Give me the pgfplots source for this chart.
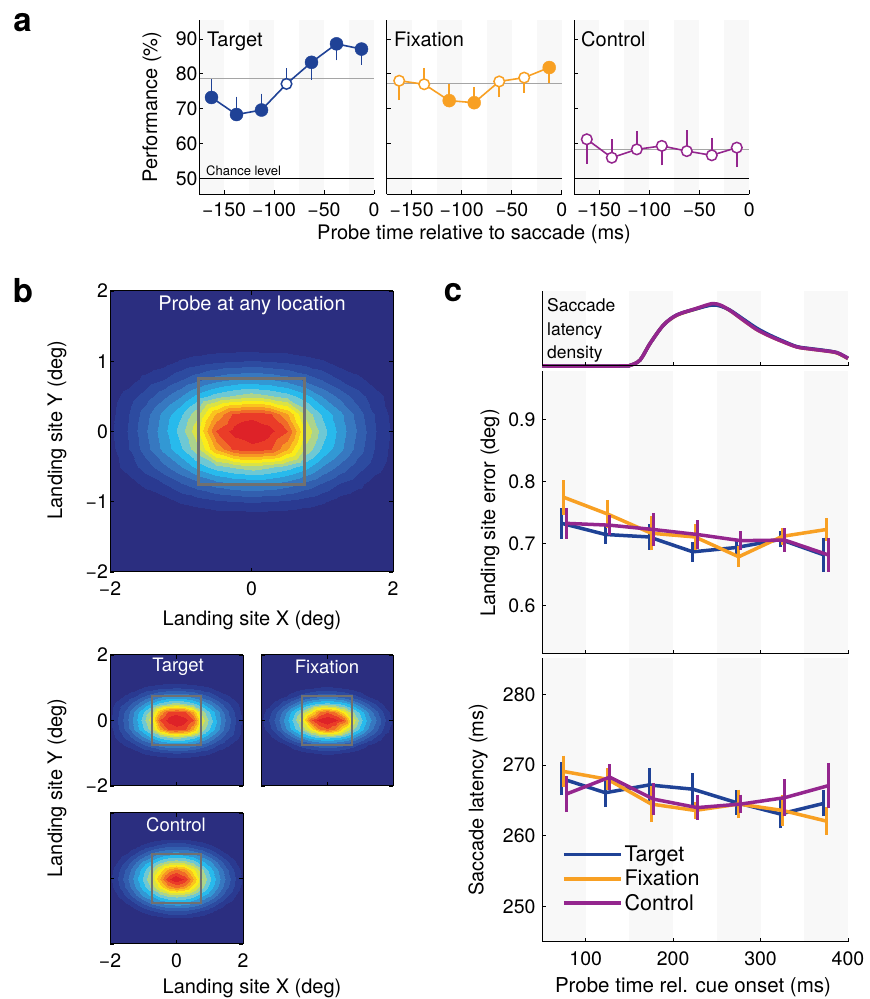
\documentclass[border=0pt]{standalone}
\usepackage{pgfplots}
\usepackage{pgfplotstable}
\pgfplotsset{compat=1.18}
\usepackage{fontspec}
\setmainfont{TeX Gyre Heros}
\newcommand{\fs}[2]{\fontsize{#1}{#2}\selectfont}
\definecolor{tblue}{RGB}{31,66,150}
\definecolor{torange}{RGB}{248,160,35}
\definecolor{tpurple}{RGB}{148,38,142}
\definecolor{stripe}{RGB}{248,248,248}
\definecolor{boxgray}{RGB}{112,112,112}
\definecolor{thrgray}{RGB}{165,165,165}
\pgfplotsset{colormap={landing}{rgb255=(43,46,128) rgb255=(42,58,145) rgb255=(45,75,160) rgb255=(50,95,175) rgb255=(55,120,192) rgb255=(50,152,212) rgb255=(40,186,236) rgb255=(110,200,212) rgb255=(172,212,140) rgb255=(218,226,70) rgb255=(250,236,25) rgb255=(250,196,30) rgb255=(246,152,35) rgb255=(240,106,40) rgb255=(234,60,40) rgb255=(222,34,40)}}

\pgfplotstableread[row sep=\\]{
0 3 0\\1 3 0\\2 3 0\\3 3 0\\4 3 0\\5 3 0\\6 3 1\\7 3 1\\8 3 1\\9 3 1\\10 3 1\\11 3 0\\12 3 0\\13 3 0\\14 3 0\\15 3 0\\16 3 0\\
0 4 0\\1 4 0\\2 4 1\\3 4 3\\4 4 7\\5 4 9\\6 4 11\\7 4 12\\8 4 13\\9 4 12\\10 4 11\\11 4 9\\12 4 7\\13 4 3\\14 4 1\\15 4 0\\16 4 0\\
0 5 0\\1 5 3\\2 5 8\\3 5 12\\4 5 18\\5 5 23\\6 5 28\\7 5 31\\8 5 32\\9 5 31\\10 5 28\\11 5 23\\12 5 18\\13 5 12\\14 5 8\\15 5 3\\16 5 0\\
0 6 3\\1 6 9\\2 6 15\\3 6 23\\4 6 31\\5 6 40\\6 6 47\\7 6 51\\8 6 54\\9 6 51\\10 6 47\\11 6 40\\12 6 31\\13 6 23\\14 6 15\\15 6 9\\16 6 3\\
0 7 4\\1 7 12\\2 7 22\\3 7 33\\4 7 43\\5 7 55\\6 7 76\\7 7 89\\8 7 91\\9 7 89\\10 7 76\\11 7 55\\12 7 43\\13 7 33\\14 7 22\\15 7 12\\16 7 4\\
0 8 5\\1 8 13\\2 8 24\\3 8 35\\4 8 47\\5 8 62\\6 8 88\\7 8 96\\8 8 100\\9 8 96\\10 8 88\\11 8 62\\12 8 47\\13 8 35\\14 8 24\\15 8 13\\16 8 5\\
0 9 4\\1 9 12\\2 9 22\\3 9 33\\4 9 43\\5 9 55\\6 9 76\\7 9 89\\8 9 91\\9 9 89\\10 9 76\\11 9 55\\12 9 43\\13 9 33\\14 9 22\\15 9 12\\16 9 4\\
0 10 3\\1 10 9\\2 10 15\\3 10 23\\4 10 31\\5 10 40\\6 10 47\\7 10 51\\8 10 54\\9 10 51\\10 10 47\\11 10 40\\12 10 31\\13 10 23\\14 10 15\\15 10 9\\16 10 3\\
0 11 0\\1 11 3\\2 11 8\\3 11 12\\4 11 18\\5 11 23\\6 11 28\\7 11 31\\8 11 32\\9 11 31\\10 11 28\\11 11 23\\12 11 18\\13 11 12\\14 11 8\\15 11 3\\16 11 0\\
0 12 0\\1 12 0\\2 12 1\\3 12 3\\4 12 7\\5 12 9\\6 12 11\\7 12 12\\8 12 13\\9 12 12\\10 12 11\\11 12 9\\12 12 7\\13 12 3\\14 12 1\\15 12 0\\16 12 0\\
0 13 0\\1 13 0\\2 13 0\\3 13 0\\4 13 0\\5 13 0\\6 13 1\\7 13 1\\8 13 1\\9 13 1\\10 13 1\\11 13 0\\12 13 0\\13 13 0\\14 13 0\\15 13 0\\16 13 0\\
}\bigmap

\pgfplotstableread[row sep=\\]{
0 3 0\\1 3 0\\2 3 0\\3 3 0\\4 3 0\\5 3 0\\6 3 0\\7 3 0\\8 3 0\\9 3 0\\10 3 0\\11 3 0\\12 3 0\\13 3 0\\14 3 0\\15 3 0\\16 3 0\\
0 4 0\\1 4 0\\2 4 0\\3 4 0\\4 4 2\\5 4 4\\6 4 6\\7 4 7\\8 4 8\\9 4 7\\10 4 6\\11 4 4\\12 4 2\\13 4 0\\14 4 0\\15 4 0\\16 4 0\\
0 5 0\\1 5 0\\2 5 2\\3 5 6\\4 5 11\\5 5 16\\6 5 20\\7 5 23\\8 5 24\\9 5 23\\10 5 20\\11 5 16\\12 5 11\\13 5 6\\14 5 2\\15 5 0\\16 5 0\\
0 6 1\\1 6 4\\2 6 11\\3 6 19\\4 6 27\\5 6 35\\6 6 42\\7 6 46\\8 6 47\\9 6 46\\10 6 42\\11 6 35\\12 6 27\\13 6 19\\14 6 11\\15 6 4\\16 6 1\\
0 7 3\\1 7 10\\2 7 20\\3 7 31\\4 7 42\\5 7 52\\6 7 65\\7 7 81\\8 7 87\\9 7 81\\10 7 65\\11 7 52\\12 7 42\\13 7 31\\14 7 20\\15 7 10\\16 7 3\\
0 8 5\\1 8 13\\2 8 24\\3 8 35\\4 8 47\\5 8 62\\6 8 87\\7 8 96\\8 8 100\\9 8 96\\10 8 87\\11 8 62\\12 8 47\\13 8 35\\14 8 24\\15 8 13\\16 8 5\\
0 9 3\\1 9 10\\2 9 20\\3 9 31\\4 9 42\\5 9 52\\6 9 65\\7 9 81\\8 9 87\\9 9 81\\10 9 65\\11 9 52\\12 9 42\\13 9 31\\14 9 20\\15 9 10\\16 9 3\\
0 10 1\\1 10 4\\2 10 11\\3 10 19\\4 10 27\\5 10 35\\6 10 42\\7 10 46\\8 10 47\\9 10 46\\10 10 42\\11 10 35\\12 10 27\\13 10 19\\14 10 11\\15 10 4\\16 10 1\\
0 11 0\\1 11 0\\2 11 2\\3 11 6\\4 11 11\\5 11 16\\6 11 20\\7 11 23\\8 11 24\\9 11 23\\10 11 20\\11 11 16\\12 11 11\\13 11 6\\14 11 2\\15 11 0\\16 11 0\\
0 12 0\\1 12 0\\2 12 0\\3 12 0\\4 12 2\\5 12 4\\6 12 6\\7 12 7\\8 12 8\\9 12 7\\10 12 6\\11 12 4\\12 12 2\\13 12 0\\14 12 0\\15 12 0\\16 12 0\\
0 13 0\\1 13 0\\2 13 0\\3 13 0\\4 13 0\\5 13 0\\6 13 0\\7 13 0\\8 13 0\\9 13 0\\10 13 0\\11 13 0\\12 13 0\\13 13 0\\14 13 0\\15 13 0\\16 13 0\\
}\fixmap

\pgfplotstableread[row sep=\\]{
0 3 0\\1 3 0\\2 3 0\\3 3 0\\4 3 0\\5 3 2\\6 3 3\\7 3 4\\8 3 4\\9 3 4\\10 3 3\\11 3 2\\12 3 0\\13 3 0\\14 3 0\\15 3 0\\16 3 0\\
0 4 0\\1 4 0\\2 4 1\\3 4 4\\4 4 8\\5 4 12\\6 4 15\\7 4 18\\8 4 18\\9 4 18\\10 4 15\\11 4 12\\12 4 8\\13 4 4\\14 4 1\\15 4 0\\16 4 0\\
0 5 0\\1 5 2\\2 5 7\\3 5 13\\4 5 20\\5 5 27\\6 5 32\\7 5 35\\8 5 36\\9 5 35\\10 5 32\\11 5 27\\12 5 20\\13 5 13\\14 5 7\\15 5 2\\16 5 0\\
0 6 1\\1 6 7\\2 6 15\\3 6 24\\4 6 33\\5 6 40\\6 6 48\\7 6 53\\8 6 55\\9 6 53\\10 6 48\\11 6 40\\12 6 33\\13 6 24\\14 6 15\\15 6 7\\16 6 1\\
0 7 4\\1 7 11\\2 7 21\\3 7 31\\4 7 41\\5 7 53\\6 7 65\\7 7 78\\8 7 83\\9 7 78\\10 7 65\\11 7 53\\12 7 41\\13 7 31\\14 7 21\\15 7 11\\16 7 4\\
0 8 5\\1 8 13\\2 8 24\\3 8 34\\4 8 45\\5 8 58\\6 8 76\\7 8 92\\8 8 100\\9 8 92\\10 8 76\\11 8 58\\12 8 45\\13 8 34\\14 8 24\\15 8 13\\16 8 5\\
0 9 4\\1 9 11\\2 9 21\\3 9 31\\4 9 41\\5 9 53\\6 9 65\\7 9 78\\8 9 83\\9 9 78\\10 9 65\\11 9 53\\12 9 41\\13 9 31\\14 9 21\\15 9 11\\16 9 4\\
0 10 1\\1 10 7\\2 10 15\\3 10 24\\4 10 33\\5 10 40\\6 10 48\\7 10 53\\8 10 55\\9 10 53\\10 10 48\\11 10 40\\12 10 33\\13 10 24\\14 10 15\\15 10 7\\16 10 1\\
0 11 0\\1 11 2\\2 11 7\\3 11 13\\4 11 20\\5 11 27\\6 11 32\\7 11 35\\8 11 36\\9 11 35\\10 11 32\\11 11 27\\12 11 20\\13 11 13\\14 11 7\\15 11 2\\16 11 0\\
0 12 0\\1 12 0\\2 12 1\\3 12 4\\4 12 8\\5 12 12\\6 12 15\\7 12 18\\8 12 18\\9 12 18\\10 12 15\\11 12 12\\12 12 8\\13 12 4\\14 12 1\\15 12 0\\16 12 0\\
0 13 0\\1 13 0\\2 13 0\\3 13 0\\4 13 0\\5 13 2\\6 13 3\\7 13 4\\8 13 4\\9 13 4\\10 13 3\\11 13 2\\12 13 0\\13 13 0\\14 13 0\\15 13 0\\16 13 0\\
}\ctrlmap

\pgfplotsset{
  every axis/.append style={scale only axis, tick label style={font=\fs{19.5}{22}}, axis line style={line width=1pt}, major tick length=4pt, tick style={line width=0.9pt, black}, tick align=inside},
  pa/.style={width=175pt, height=174.3pt, xmin=-175, xmax=0, ymin=45.4, ymax=95.45, axis x line*=bottom, axis y line*=left, axis on top, xtick={-150,-100,-50,0}, xticklabels={−150,−100,−50,0}, ytick={50,60,70,80,90}, yticklabels={50,60,70,80,90}, clip=false, xticklabel style={yshift=-7pt, inner sep=1pt}, yticklabel style={xshift=2pt}},
  ebA/.style={error bars/.cd, y dir=both, y explicit, error bar style={line width=1.6pt}, error mark options={line width=1.6pt, mark size=1.5pt}},
  ebC/.style={error bars/.cd, y dir=both, y explicit, error bar style={line width=3pt}, error mark options={line width=3pt, mark size=3pt}},
  pc/.style={width=306pt, xmin=50, xmax=400, axis x line*=bottom, axis y line*=left, axis on top, xtick={100,200,300,400}, clip=false, xticklabel style={yshift=-6pt}, yticklabel style={xshift=-3pt}},
  hm/.style={view={0}{90}, xmin=0, xmax=16, ymin=0, ymax=16, colormap name=landing, colormap access=piecewise constant, point meta min=0, point meta max=100, ztick=\empty, axis on top, xtick={0,8,16}, ytick={0,8,16}, xticklabels={}, yticklabels={}, xticklabel style={yshift=-6pt}, yticklabel style={xshift=1.5pt}},
}
\newcommand{\stripesA}{%
\addplot[draw=none, fill=stripe, forget plot] coordinates {(-175,45.4) (-150,45.4) (-150,95.45) (-175,95.45)};
\addplot[draw=none, fill=stripe, forget plot] coordinates {(-125,45.4) (-100,45.4) (-100,95.45) (-125,95.45)};
\addplot[draw=none, fill=stripe, forget plot] coordinates {(-75,45.4) (-50,45.4) (-50,95.45) (-75,95.45)};
\addplot[draw=none, fill=stripe, forget plot] coordinates {(-25,45.4) (0,45.4) (0,95.45) (-25,95.45)};
\addplot[black, line width=0.9pt, forget plot] coordinates {(-175,50) (0,50)};}
\newcommand{\stripesC}[2]{%
\addplot[draw=none, fill=stripe, forget plot] coordinates {(50,#1) (100,#1) (100,#2) (50,#2)};
\addplot[draw=none, fill=stripe, forget plot] coordinates {(150,#1) (200,#1) (200,#2) (150,#2)};
\addplot[draw=none, fill=stripe, forget plot] coordinates {(250,#1) (300,#1) (300,#2) (250,#2)};
\addplot[draw=none, fill=stripe, forget plot] coordinates {(350,#1) (400,#1) (400,#2) (350,#2)};}
\newcommand{\hmback}{\addplot3[surf, shader=flat, mesh/cols=2] coordinates {(0,0,0) (16,0,0) (0,16,0) (16,16,0)};}

\begin{document}
\begin{tikzpicture}
\useasboundingbox (0pt,0pt) rectangle (870pt,999pt);

% ---------- panel a ----------
\begin{axis}[pa, at={(199pt,804.7pt)}, anchor=south west]
\stripesA
\addplot[thrgray, line width=0.9pt] coordinates {(-175,78.7) (0,78.7)};
\addplot[tblue, line width=1.6pt, ebA] coordinates {
(-162.5,73.2) += (0,4.8) -= (0,0)
(-137.5,68.3) += (0,4.7) -= (0,0)
(-112.5,69.6) += (0,4.3) -= (0,0)
(-87.5,77.1) += (0,4.0) -= (0,0)
(-62.5,83.3) += (0,0) -= (0,4.6)
(-37.5,88.6) += (0,0) -= (0,4.3)
(-12.5,87.1) += (0,0) -= (0,4.1)};
\addplot[only marks, mark=*, tblue, mark size=6.5pt] coordinates {(-162.5,73.2) (-137.5,68.3) (-112.5,69.6) (-62.5,83.3) (-37.5,88.6) (-12.5,87.1)};
\addplot[only marks, mark=*, mark size=5.3pt, mark options={fill=white, draw=tblue, line width=1.5pt}] coordinates {(-87.5,77.1)};
\end{axis}

\begin{axis}[pa, at={(386.7pt,804.7pt)}, anchor=south west, yticklabels={}]
\stripesA
\addplot[thrgray, line width=0.9pt] coordinates {(-175,77.1) (0,77.1)};
\addplot[torange, line width=1.6pt, ebA] coordinates {
(-162.5,78.0) += (0,0) -= (0,5.1)
(-137.5,77.0) += (0,4.3) -= (0,0)
(-112.5,72.3) += (0,4.2) -= (0,0)
(-87.5,71.7) += (0,4.1) -= (0,0)
(-62.5,77.8) += (0,0) -= (0,4.1)
(-37.5,78.9) += (0,0) -= (0,4.0)
(-12.5,81.8) += (0,0) -= (0,4.0)};
\addplot[only marks, mark=*, torange, mark size=6.5pt] coordinates {(-112.5,72.3) (-87.5,71.7) (-12.5,81.8)};
\addplot[only marks, mark=*, mark size=5.3pt, mark options={fill=white, draw=torange, line width=1.5pt}] coordinates {(-162.5,78.0) (-137.5,77.0) (-62.5,77.8) (-37.5,78.9)};
\end{axis}

\begin{axis}[pa, at={(574.3pt,804.7pt)}, anchor=south west, yticklabels={}]
\stripesA
\addplot[thrgray, line width=0.9pt] coordinates {(-175,58.3) (0,58.3)};
\addplot[tpurple, line width=1.6pt, ebA] coordinates {
(-162.5,61.2) += (0,0) -= (0,6.6)
(-137.5,55.9) += (0,4.9) -= (0,0)
(-112.5,58.3) += (0,4.9) -= (0,0)
(-87.5,59.3) += (0,0) -= (0,5.2)
(-62.5,57.8) += (0,5.6) -= (0,0)
(-37.5,56.6) += (0,4.6) -= (0,0)
(-12.5,58.8) += (0,0) -= (0,5.2)};
\addplot[only marks, mark=*, mark size=5.3pt, mark options={fill=white, draw=tpurple, line width=1.5pt}] coordinates {(-162.5,61.2) (-137.5,55.9) (-112.5,58.3) (-87.5,59.3) (-62.5,57.8) (-37.5,56.6) (-12.5,58.8)};
\end{axis}

\node[font=\fs{20}{24}, rotate=90] at (152pt,892pt) {Performance (\%)};
\node[font=\fs{20}{24}, inner sep=0pt] at (474pt,764.5pt) {Probe time relative to saccade (ms)};
\node[font=\fs{13}{15}, anchor=west, inner sep=0pt] at (206pt,828pt) {Chance level};
\node[font=\fs{20}{24}, anchor=base west, inner sep=0pt] at (207pt,952.3pt) {Target};
\node[font=\fs{20}{24}, anchor=base west, inner sep=0pt] at (394pt,952.3pt) {Fixation};
\node[font=\fs{20}{24}, anchor=base west, inner sep=0pt] at (581pt,952.3pt) {Control};
\node[font=\fs{33}{36}\bfseries, inner sep=0pt] at (22.5pt,976.5pt) {a};
\node[font=\fs{33}{36}\bfseries, inner sep=0pt] at (23pt,708pt) {b};
\node[font=\fs{33}{36}\bfseries, inner sep=0pt] at (453pt,706pt) {c};

% ---------- panel b ----------
\begin{axis}[hm, width=283pt, height=281pt, at={(110pt,427pt)}, anchor=south west,
  xticklabels={−2,0,2}, ytick={0,4,8,12,16}, yticklabels={−2,−1,0,1,2}]
\hmback
\addplot3[surf, shader=interp, mesh/cols=17] table {\bigmap};
\addplot3[boxgray, line width=3pt, line cap=rect] coordinates {(5,5,100) (11,5,100) (11,11,100) (5,11,100) (5,5,100)};
\end{axis}
\node[font=\fs{20}{24}, white] at (252pt,694pt) {Probe at any location};
\node[font=\fs{20}{24}] at (252pt,379pt) {Landing site X (deg)};
\node[font=\fs{20}{24}, rotate=90] at (57pt,569pt) {Landing site Y (deg)};

\begin{axis}[hm, width=133pt, height=131pt, at={(110pt,213pt)}, anchor=south west, yticklabels={−2,0,2}]
\hmback
\addplot3[surf, shader=interp, mesh/cols=17] table {\bigmap};
\addplot3[boxgray, line width=2pt, line cap=rect] coordinates {(5,5,100) (11,5,100) (11,11,100) (5,11,100) (5,5,100)};
\end{axis}
\begin{axis}[hm, width=132pt, height=131pt, at={(261pt,213pt)}, anchor=south west]
\hmback
\addplot3[surf, shader=interp, mesh/cols=17] table {\fixmap};
\addplot3[boxgray, line width=2pt, line cap=rect] coordinates {(5,5,100) (11,5,100) (11,11,100) (5,11,100) (5,5,100)};
\end{axis}
\begin{axis}[hm, width=133pt, height=131pt, at={(110pt,55pt)}, anchor=south west, xticklabels={−2,0,2}]
\hmback
\addplot3[surf, shader=interp, mesh/cols=17] table {\ctrlmap};
\addplot3[boxgray, line width=2pt, line cap=rect] coordinates {(5,5,100) (11,5,100) (11,11,100) (5,11,100) (5,5,100)};
\end{axis}
\node[font=\fs{18.5}{22}, white] at (178pt,332.3pt) {Target};
\node[font=\fs{18.5}{22}, white] at (327pt,332.3pt) {Fixation};
\node[font=\fs{18.5}{22}, white] at (176pt,174pt) {Control};
\node[font=\fs{20}{24}] at (252pt,11pt) {Landing site X (deg)};
\node[font=\fs{20}{24}, rotate=90] at (57pt,211pt) {Landing site Y (deg)};

% ---------- panel c ----------
\begin{axis}[pc, height=75pt, at={(542pt,633pt)}, anchor=south west, ymin=0, ymax=225, ytick=\empty, xticklabels={}]
\stripesC{0}{225}
\addplot[torange, line width=3.5pt, smooth] coordinates {(50,0) (140,0) (150.8,2) (162.2,18) (173.7,68) (189,123) (204.2,152) (227,172) (244.3,185) (253.8,181) (265.3,166) (280.5,137) (295.8,109) (311,89) (326.3,72) (341.6,57) (356.9,51) (372.1,46) (387.4,39) (400,22)};
\addplot[tblue, line width=3.5pt, smooth] coordinates {(50,0) (140,0) (150.8,2) (162.2,18) (173.7,68) (189,123) (204.2,153) (227,172) (244.3,183) (253.8,180) (265.3,167) (280.5,140) (295.8,113) (311,92) (326.3,74) (341.6,58) (356.9,52) (372.1,47) (387.4,40) (400,23)};
\addplot[tpurple, line width=3.5pt, smooth] coordinates {(50,0) (140,0) (150.8,2) (162.2,18) (173.7,68) (189,123) (204.2,153) (227,173) (244.3,187) (253.8,183) (265.3,166) (280.5,137) (295.8,109) (311,89) (326.3,72) (341.6,57) (356.9,51) (372.1,46) (387.4,40) (400,23)};
\end{axis}
\node[font=\fs{17.5}{23.5}, anchor=north west, align=left, inner sep=0pt] at (547pt,700.5pt) {Saccade\\latency\\density};

\begin{axis}[pc, height=283pt, at={(542pt,345pt)}, anchor=south west, ymin=0.522, ymax=0.979, ytick={0.6,0.7,0.8,0.9}, yticklabels={0.6,0.7,0.8,0.9}, xticklabels={}]
\stripesC{0.522}{0.979}
\addplot[tblue, line width=3.5pt, ebC] coordinates {(72.5,0.733) +- (0,0.020) (122.5,0.715) +- (0,0.010) (172.5,0.711) +- (0,0.016) (222.5,0.687) +- (0,0.011) (272.5,0.694) +- (0,0.009) (322.5,0.707) +- (0,0.008) (372.5,0.682) +- (0,0.023)};
\addplot[torange, line width=3.5pt, ebC] coordinates {(75,0.775) +- (0,0.023) (125,0.748) +- (0,0.018) (175,0.717) +- (0,0.023) (225,0.711) +- (0,0.016) (275,0.679) +- (0,0.012) (325,0.712) +- (0,0.009) (375,0.723) +- (0,0.013)};
\addplot[tpurple, line width=3.5pt, ebC] coordinates {(77.5,0.733) +- (0,0.020) (127.5,0.730) +- (0,0.011) (177.5,0.723) +- (0,0.022) (227.5,0.715) +- (0,0.018) (277.5,0.705) +- (0,0.010) (327.5,0.706) +- (0,0.014) (377.5,0.682) +- (0,0.022)};
\end{axis}
\node[font=\fs{20}{24}, rotate=90] at (490pt,486pt) {Landing site error (deg)};

\begin{axis}[pc, height=283.7pt, at={(542pt,57.3pt)}, anchor=south west, ymin=245.06, ymax=285.13, ytick={250,260,270,280}, yticklabels={250,260,270,280}, xticklabels={100,200,300,400},
  legend image code/.code={\draw[#1] (0pt,0pt) -- (57pt,0pt);},
  legend style={at={(0.065,0.345)}, anchor=north west, draw=none, fill=none, font=\fs{21.5}{24}, inner sep=0pt, row sep=3pt, cells={anchor=west}, /tikz/every even column/.append style={column sep=8pt}}]
\stripesC{245.06}{285.13}
\addplot[tblue, line width=3.5pt, forget plot, ebC] coordinates {(72.5,268.1) +- (0,1.9) (122.5,266.1) +- (0,1.6) (172.5,267.2) +- (0,2.0) (222.5,266.6) +- (0,1.8) (272.5,264.7) +- (0,1.3) (322.5,263.1) +- (0,1.6) (372.5,264.6) +- (0,1.4)};
\addplot[torange, line width=3.5pt, forget plot, ebC] coordinates {(75,269.1) +- (0,1.8) (125,268.0) +- (0,1.1) (175,264.5) +- (0,2.1) (225,263.6) +- (0,0.8) (275,264.5) +- (0,1.6) (325,263.6) +- (0,1.8) (375,262.1) +- (0,1.5)};
\addplot[tpurple, line width=3.5pt, forget plot, ebC] coordinates {(77.5,265.9) +- (0,2.1) (127.5,268.3) +- (0,1.4) (177.5,265.2) +- (0,1.8) (227.5,264.0) +- (0,1.3) (277.5,264.5) +- (0,0.9) (327.5,265.4) +- (0,2.2) (377.5,267.1) +- (0,2.8)};
\addlegendimage{tblue, line width=3.5pt}
\addlegendentry{Target}
\addlegendimage{torange, line width=3.5pt}
\addlegendentry{Fixation}
\addlegendimage{tpurple, line width=3.5pt}
\addlegendentry{Control}
\end{axis}
\node[font=\fs{20}{24}, rotate=90] at (478pt,199pt) {Saccade latency (ms)};
\node[font=\fs{20.5}{24}] at (693pt,12pt) {Probe time rel. cue onset (ms)};
\end{tikzpicture}
\end{document}
